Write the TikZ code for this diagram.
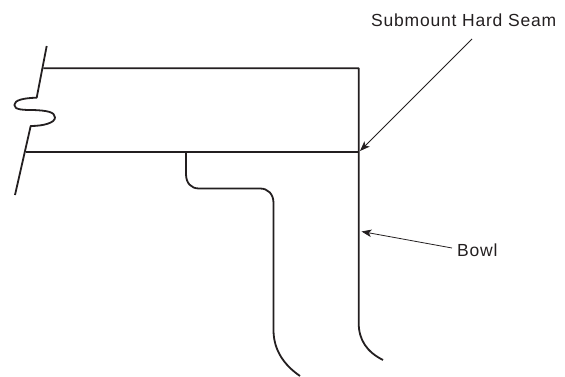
\documentclass[tikz,border=0pt]{standalone}
\usepackage{fontspec}
\setmainfont{Liberation Sans}
\usetikzlibrary{arrows.meta}
\definecolor{ink}{HTML}{231F20}
\tikzset{
  wall/.style={draw=ink,line width=1.8pt,line join=round},
  leader/.style={draw=ink,line width=0.8pt,-{Stealth[length=10pt,width=7.5pt,inset=2.5pt]}},
  lbl/.style={font=\fontsize{17.5}{20}\selectfont\addfontfeature{LetterSpace=4.5},text=ink,inner sep=0pt,anchor=base west}
}
\begin{document}
\begin{tikzpicture}[x=1pt,y=-1pt]
\useasboundingbox (0,0) rectangle (565,377);
% break line on the left
\draw[wall] (46.7,46) -- (36.7,97.7)
  .. controls (24,98) and (14.3,100) .. (14.3,105)
  .. controls (14.3,110) and (24,110) .. (33,110)
  .. controls (47,110.5) and (55,112) .. (55,117.5)
  .. controls (55,123) and (43,126) .. (30.7,126)
  -- (15,195);
% housing
\draw[wall] (43.3,68.3) -- (358.7,68.3) -- (358.7,323)
  .. controls (358.7,340) and (367,352) .. (383,360);
\draw[wall] (26,152) -- (358.7,152);
% inner wall
\draw[wall] (186,152) -- (186,174)
  .. controls (186,183) and (191,188.5) .. (199,188.5)
  -- (260,188.5)
  .. controls (268,188.5) and (273.5,194) .. (273.5,203)
  -- (273.5,330)
  .. controls (273.5,350) and (284,365) .. (300,376);
% labels and leaders
\node[lbl] (seam) at (371,27) {Submount Hard Seam};
\node[lbl] (bowl) at (457,256.5) {Bowl};
\coordinate (seamfrom) at (472,39);
\coordinate (seamto) at (360,151);
\coordinate (bowlfrom) at (452,248);
\coordinate (bowlto) at (361.5,231.5);
\draw[leader] (seamfrom) -- (seamto);
\draw[leader] (bowlfrom) -- (bowlto);
\end{tikzpicture}
\end{document}
